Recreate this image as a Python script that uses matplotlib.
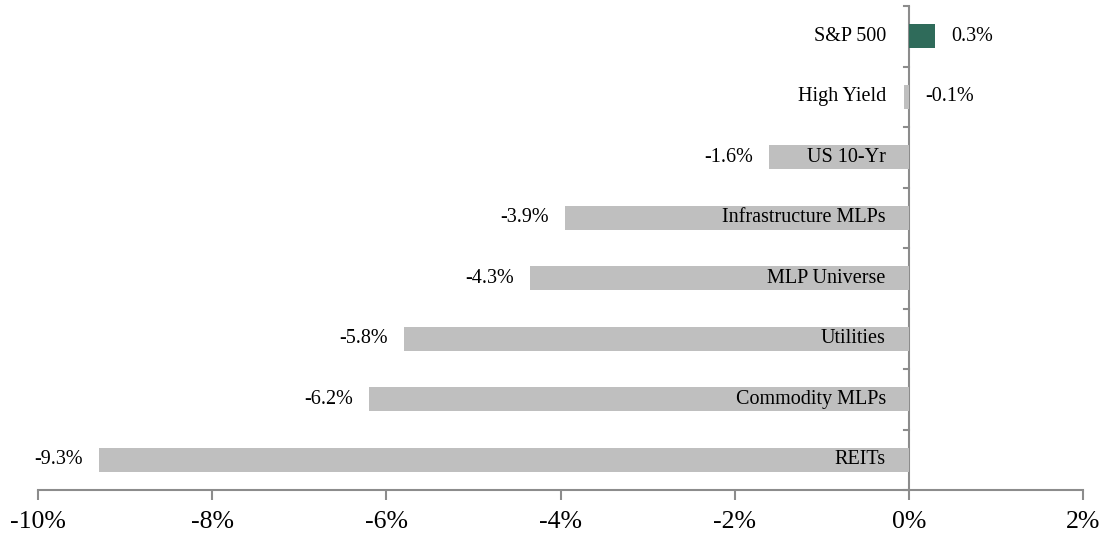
import numpy as np
import matplotlib.pyplot as plt

plt.rcParams['font.family'] = ['Liberation Serif', 'DejaVu Serif']

categories = ['S&P 500', 'High Yield', 'US 10-Yr', 'Infrastructure MLPs',
              'MLP Universe', 'Utilities', 'Commodity MLPs', 'REITs']
returns = [0.3, -0.06, -1.6, -3.95, -4.35, -5.8, -6.2, -9.3]
value_labels = ['0.3%', '-0.1%', '-1.6%', '-3.9%', '-4.3%', '-5.8%', '-6.2%', '-9.3%']
x_ticks = [-10, -8, -6, -4, -2, 0, 2]
x_ticklabels = ['-10%', '-8%', '-6%', '-4%', '-2%', '0%', '2%']

GREY = '#bfbfbf'
GREEN = '#2f6b5a'
AXIS = '#8c8c8c'

fig = plt.figure(figsize=(11.09, 5.4), dpi=100)
ax = fig.add_axes([38 / 1109, 1 - 490 / 540, (1083 - 38) / 1109, (490 - 6) / 540])

n = len(categories)
y = np.arange(n)[::-1]
colors = [GREEN if v > 0 else GREY for v in returns]
ax.barh(y, returns, height=0.4, color=colors, zorder=2)

for yi, v, cat, lab in zip(y, returns, categories, value_labels):
    ax.annotate(cat, (0, yi), xytext=(-23, 0), textcoords='offset pixels',
                ha='right', va='center', fontsize=14.5, color='black', zorder=3)
    if v > -0.5:
        ax.annotate(lab, (max(v, 0), yi), xytext=(16, 0), textcoords='offset pixels',
                    ha='left', va='center', fontsize=14.5, color='black')
    else:
        ax.annotate(lab, (v, yi), xytext=(-16, 0), textcoords='offset pixels',
                    ha='right', va='center', fontsize=14.5, color='black')

ax.set_xlim(-10, 2)
ax.set_ylim(-0.5, n - 0.5)

for s in ['top', 'right', 'left']:
    ax.spines[s].set_visible(False)
ax.spines['bottom'].set_color(AXIS)
ax.spines['bottom'].set_linewidth(1.5)
ax.spines['bottom'].set_position(('data', -0.5))

ax.set_xticks(x_ticks)
ax.set_xticklabels(x_ticklabels)
ax.set_yticks([])
ax.tick_params(axis='x', direction='out', length=7, width=1.5, color=AXIS,
               pad=8, labelsize=18.5)

ax.axvline(0, color=AXIS, lw=1.5, zorder=1)
# tick marks on the vertical zero line
for b in np.arange(n + 1) - 0.5:
    ax.plot([-0.06, 0], [b, b], color=AXIS, lw=1.5, clip_on=False, zorder=1)

fig.savefig('out.png', dpi=100)
